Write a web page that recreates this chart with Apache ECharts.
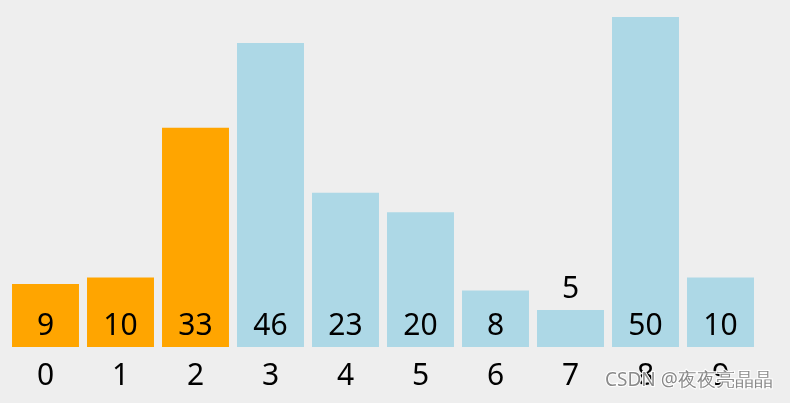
<!DOCTYPE html>
<html>
<head>
<meta charset="utf-8">
<script src="https://cdn.jsdelivr.net/npm/echarts@6/dist/echarts.min.js"></script>
<style>
html,body{margin:0;padding:0;background:#eeeeee;}
#c{width:790px;height:403px;}
</style>
</head>
<body>
<div id="c"></div>
<script>
const categories = ['0','1','2','3','4','5','6','7','8','9'];
const values = [9, 10, 33, 46, 23, 20, 8, 5, 50, 10];
const highlighted = [true, true, true, false, false, false, false, false, false, false];
const watermark = 'CSDN @夜夜亮晶晶';

const yMin = -0.68, yMax = 50;
const FONT = '"Noto Sans", "Open Sans", sans-serif';
const chart = echarts.init(document.getElementById('c'));
chart.setOption({
  backgroundColor: '#eeeeee',
  animation: false,
  grid: {left: 8, right: 32, top: 17, bottom: 56},
  xAxis: {
    type: 'category', data: categories, boundaryGap: true,
    axisLine: {show: false}, axisTick: {show: false}, splitLine: {show: false},
    axisLabel: {fontSize: 30, color: '#000', fontFamily: FONT, margin: 14}
  },
  yAxis: {type: 'value', min: yMin, max: yMax, show: false},
  series: [{
    type: 'custom',
    data: values.map((v, i) => [i, v]),
    renderItem: function (params, api) {
      const i = api.value(0), v = api.value(1);
      const top = api.coord([i, v]);
      const base = api.coord([i, yMin]);
      const band = api.size([1, 0])[0];
      const w = band * 0.893;
      const h = base[1] - top[1];
      const inside = h > 45;
      return {type: 'group', children: [
        {type: 'rect', shape: {x: top[0] - w / 2, y: top[1], width: w, height: h},
         style: {fill: highlighted[i] ? '#ffa500' : '#add8e6'}},
        {type: 'text', style: {text: String(v), x: top[0], y: inside ? base[1] - 21 : top[1] - 21,
          align: 'center', verticalAlign: 'middle', fontSize: 30, fontFamily: FONT, fill: '#000'}}
      ]};
    }
  }],
  graphic: [{
    type: 'text', left: 604, top: 370, z: 100,
    style: {text: watermark, fontSize: 19, fontFamily: FONT, fill: '#8a8a8a',
      stroke: '#ffffff', lineWidth: 2}
  }]
});
</script>
</body>
</html>
